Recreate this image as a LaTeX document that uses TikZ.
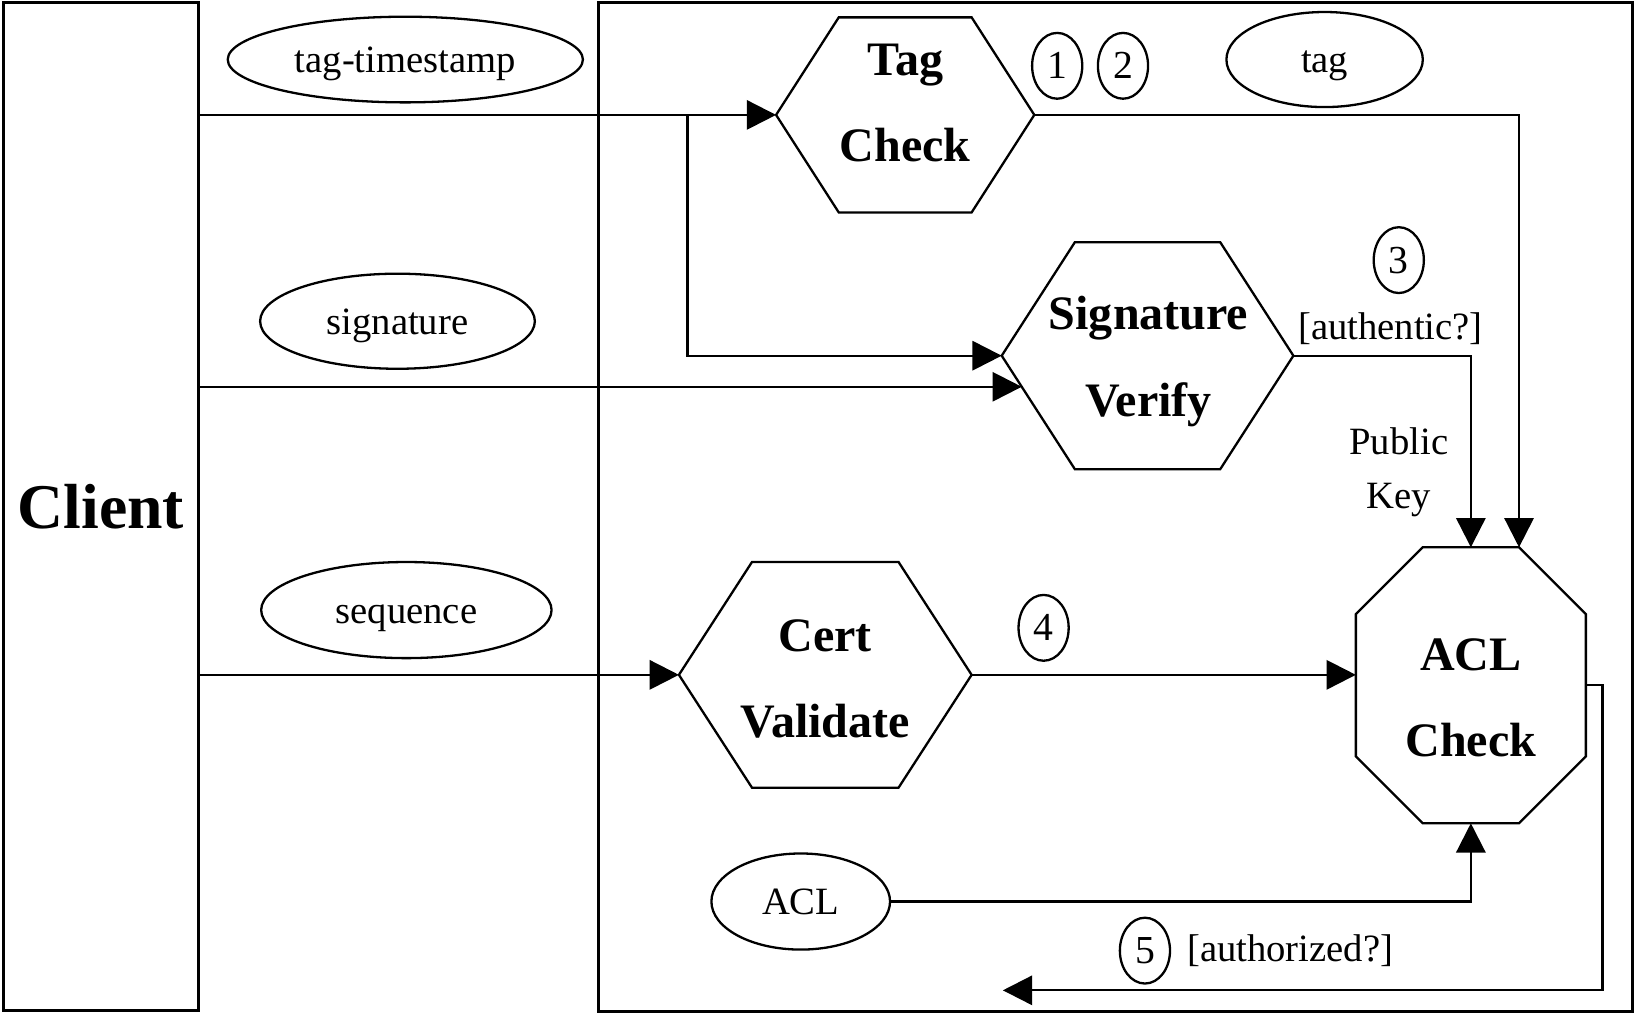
\documentclass[tikz,border=0pt]{standalone}
\usepackage{fontspec}
\setmainfont{Liberation Serif}
\usetikzlibrary{arrows.meta,shapes.geometric,calc}
\newcommand\regfont{\fontsize{18.5}{22}\selectfont}
\newcommand\numfont{\fontsize{19}{22}\selectfont}
\newcommand\procfont{\fontsize{23}{41.5}\selectfont\bfseries}
\newcommand\clientfont{\fontsize{30.5}{36}\selectfont\bfseries}
\newcommand\pkfont{\fontsize{18.5}{25.5}\selectfont}
\newcommand\hexoutline[2]{%
  \draw[shapeline] (#1.west) -- ($(#1.north west)+(#2,0)$) -- ($(#1.north east)+(-#2,0)$) -- (#1.east) -- ($(#1.south east)+(-#2,0)$) -- ($(#1.south west)+(#2,0)$) -- cycle;}
\begin{document}
\begin{tikzpicture}[x=0.5pt,y=-0.5pt,
  line width=1.1pt,
  frame/.style={draw, line width=1.4pt, inner sep=0pt},
  procbox/.style={inner sep=0pt, draw=none},
  shapeline/.style={line width=1.1pt, line join=miter},
  datum/.style={draw, ellipse, inner sep=0pt, font=\regfont, text height=16.6pt, text depth=4.1pt},
  stepnum/.style={draw, ellipse, inner sep=0pt, minimum width=24pt, minimum height=31.5pt, font=\numfont},
  proctext/.style={align=center, font=\procfont, inner sep=0pt},
  lbl/.style={font=\regfont, inner sep=0pt, align=center},
  arr/.style={-{Triangle[length=14pt,width=14pt]}},
]
\useasboundingbox (0,0) rectangle (1568,973);

% frames
\node[frame, minimum width=93.5pt, minimum height=482.5pt, font=\clientfont] (client) at (96.5,485) {Client};
\node[frame, minimum width=495pt, minimum height=483pt] (server) at (1068,485.5) {};

% data ellipses
\node[datum, minimum width=170pt, minimum height=41pt] (tts) at (388,57) {tag-timestamp};
\node[datum, minimum width=131.5pt, minimum height=45.5pt] (sig) at (380.5,307.5) {signature};
\node[datum, minimum width=139pt, minimum height=46pt] (seq) at (389,584) {sequence};
\node[datum, minimum width=94pt, minimum height=45.5pt] (tag) at (1268,57) {tag};
\node[datum, minimum width=85.5pt, minimum height=46pt] (aclin) at (766.5,863) {ACL};

% process shapes
\node[procbox, minimum width=122.5pt, minimum height=92.25pt] (tc) at (866.5,110) {};
\hexoutline{tc}{60}
\node[proctext] (tctxt) at (866.5,98.5) {Tag\\Check};

\node[procbox, minimum width=138.5pt, minimum height=107.5pt] (sv) at (1098.5,340.5) {};
\hexoutline{sv}{70}
\node[proctext] (svtxt) at (1099.5,346) {Signature\\Verify};

\node[procbox, minimum width=139pt, minimum height=107pt] (cv) at (790,646) {};
\hexoutline{cv}{70}
\node[proctext] (cvtxt) at (790,650) {Cert\\Validate};

\node[procbox, minimum width=109pt, minimum height=131pt] (acl) at (1408,656) {};
\draw[shapeline] ($(acl.north west)+(64,0)$) -- ($(acl.north east)+(-64,0)$) -- ($(acl.north east)+(0,64)$) -- ($(acl.south east)+(0,-64)$) -- ($(acl.south east)+(-64,0)$) -- ($(acl.south west)+(64,0)$) -- ($(acl.south west)+(0,-64)$) -- ($(acl.north west)+(0,64)$) -- cycle;
\node[proctext] (acltxt) at (1408,668) {ACL\\Check};

% step numbers and labels
\node[stepnum] (n1) at (1012,63) {1};
\node[stepnum] (n2) at (1075,63) {2};
\node[stepnum] (n3) at (1339,249) {3};
\node[stepnum] (n4) at (999,601) {4};
\node[stepnum] (n5) at (1096,910) {5};
\node[lbl] (auth) at (1331,315) {[authentic?]};
\node[lbl, font=\pkfont] (pk) at (1339,452) {Public\\Key};
\node[lbl] (authz) at (1235,910) {[authorized?]};

% connectors
\draw[arr] (client.east |- tc.west) -- (tc.west);
\coordinate (br) at (658,110);
\draw[arr] (br) |- (sv.west);
\coordinate (svbl) at ($(sv.south west)+(70,0)$);
\coordinate (svin) at ($(sv.west)!0.274!(svbl)$);
\draw[arr] (client.east |- svin) -- (svin);
\draw[arr] (client.east |- cv.west) -- (cv.west);
\coordinate (aclne) at ($(acl.north east)+(-64,0)$);
\draw[arr] (tc.east) -| (aclne);
\draw[arr] (sv.east) -| (acl.north);
\draw[arr] (cv.east) -- (cv.east -| acl.west);
\draw[arr] (aclin.east) -| (acl.south);
\coordinate (ret) at (960,948);
\draw[arr] (acl.east) -- ++(16,0) |- (ret);
\end{tikzpicture}
\end{document}
